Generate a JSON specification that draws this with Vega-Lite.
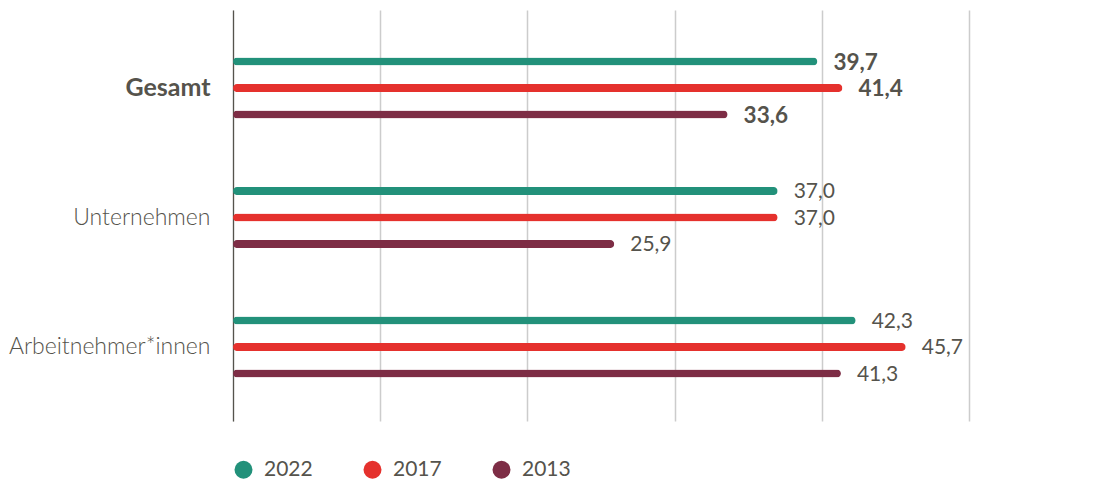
{
  "$schema": "https://vega.github.io/schema/vega-lite/v6.json",
  "autosize": {"type": "none"},
  "padding": {"left": 233, "top": 10, "right": 138, "bottom": 58},
  "width": 736,
  "height": 411,
  "background": "white",
  "config": {
    "view": {"stroke": null},
    "font": "Lato",
    "locale": {"number": {"decimal": ",", "thousands": ".", "grouping": [3], "currency": ["", " €"]}}
  },
  "data": {
    "values": [
      {"group": "Gesamt", "year": "2022", "value": 39.7},
      {"group": "Gesamt", "year": "2017", "value": 41.4},
      {"group": "Gesamt", "year": "2013", "value": 33.6},
      {"group": "Unternehmen", "year": "2022", "value": 37.0},
      {"group": "Unternehmen", "year": "2017", "value": 37.0},
      {"group": "Unternehmen", "year": "2013", "value": 25.9},
      {"group": "Arbeitnehmer*innen", "year": "2022", "value": 42.3},
      {"group": "Arbeitnehmer*innen", "year": "2017", "value": 45.7},
      {"group": "Arbeitnehmer*innen", "year": "2013", "value": 41.3}
    ]
  },
  "encoding": {
    "y": {
      "field": "group", "type": "nominal",
      "sort": ["Gesamt", "Unternehmen", "Arbeitnehmer*innen"],
      "scale": {"paddingInner": 0, "paddingOuter": 0.087, "align": 0.59},
      "axis": {
        "title": null, "ticks": false, "grid": false,
        "domain": true, "domainColor": "#55534c", "domainWidth": 1.2,
        "labelPadding": 23, "labelLimit": 400,
        "labelFontSize": {"condition": {"test": "datum.value == 'Gesamt'", "value": 25}, "value": 23},
        "labelFontWeight": {"condition": {"test": "datum.value == 'Gesamt'", "value": "bold"}, "value": 300},
        "labelColor": "#55534c", "labelFont": "Lato"
      }
    },
    "yOffset": {
      "field": "year", "type": "nominal",
      "sort": ["2022", "2017", "2013"],
      "scale": {"paddingInner": 0, "paddingOuter": 0.943}
    },
    "x": {
      "field": "value", "type": "quantitative",
      "scale": {"domain": [0, 50], "nice": false},
      "axis": {
        "title": null, "values": [0, 10, 20, 30, 40, 50], "labels": false, "ticks": false,
        "domain": false, "grid": true, "gridColor": "#cccccc", "gridWidth": 1.5
      }
    }
  },
  "layer": [
    {
      "mark": {"type": "bar", "height": 8, "cornerRadius": 4},
      "encoding": {
        "color": {
          "field": "year", "type": "nominal",
          "sort": ["2022", "2017", "2013"],
          "scale": {"domain": ["2022", "2017", "2013"], "range": ["#22917a", "#e5312d", "#7d2d45"]},
          "legend": {
            "title": null, "orient": "none", "direction": "horizontal",
            "legendX": 0, "legendY": 449,
            "symbolType": "circle", "symbolSize": 324, "symbolStrokeWidth": 0,
            "labelFontSize": 21, "labelFontWeight": 400, "labelColor": "#55534c", "labelFont": "Lato",
            "labelOffset": 10, "columnPadding": 49
          }
        }
      }
    },
    {
      "mark": {
        "type": "text", "align": "left", "baseline": "middle", "dx": 16, "dy": 1,
        "fontSize": {"expr": "datum.group == 'Gesamt' ? 22.5 : 21"}, "color": "#55534c", "font": "Lato",
        "fontWeight": {"expr": "datum.group == 'Gesamt' ? 'bold' : 400"}
      },
      "encoding": {
        "text": {"field": "value", "type": "quantitative", "format": ".1f"}
      }
    }
  ]
}
